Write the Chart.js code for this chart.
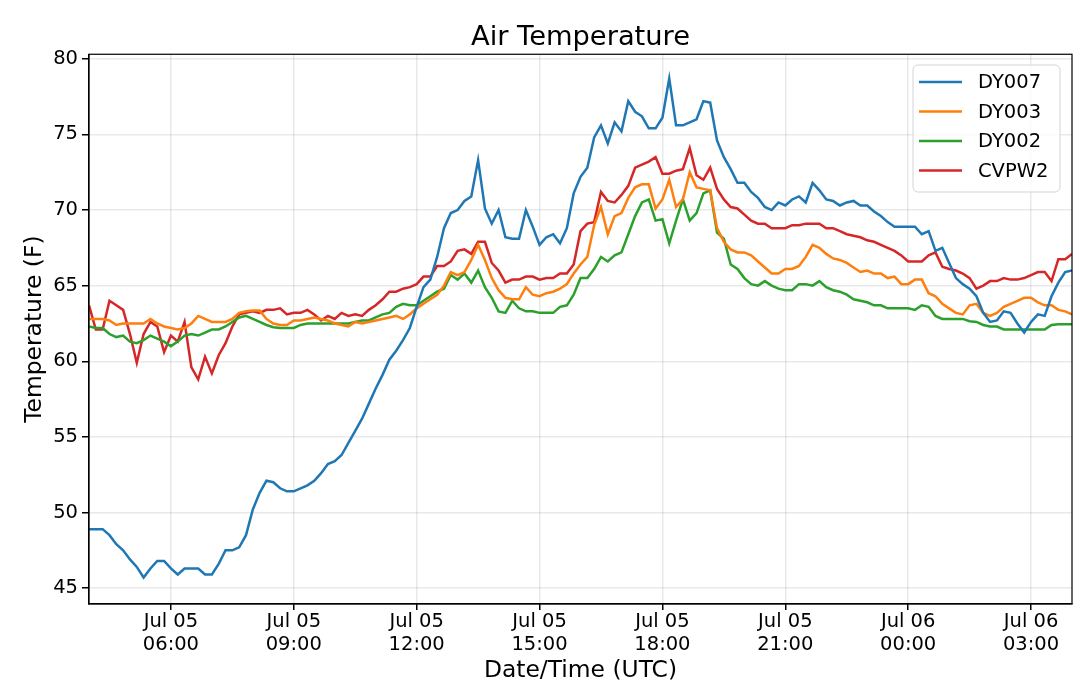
<!DOCTYPE html>
<html>
<head>
<meta charset="utf-8">
<title>Air Temperature</title>
<script src="https://cdn.jsdelivr.net/npm/chart.js@4.4.1/dist/chart.umd.min.js"></script>
<style>
    html, body { margin: 0; padding: 0; background: #ffffff; }
    #wrap { width: 1080px; height: 690px; }
</style>
</head>
<body>
<div id="wrap"><canvas id="airTemp" width="1080" height="690"></canvas></div>
<script>
// readings every 10 minutes, starting Jul 05 04:00 UTC
const stepMinutes = 10;

const dy007 = [
    48.9, 48.9, 48.9, 48.5, 47.9, 47.5, 46.9, 46.4, 45.7, 46.3,
    46.8, 46.8, 46.3, 45.9, 46.3, 46.3, 46.3, 45.9, 45.9, 46.6,
    47.5, 47.5, 47.7, 48.5, 50.2, 51.3, 52.1, 52.0, 51.6, 51.4,
    51.4, 51.6, 51.8, 52.1, 52.6, 53.2, 53.4, 53.8, 54.6, 55.4,
    56.2, 57.2, 58.2, 59.1, 60.1, 60.7, 61.4, 62.2, 63.6, 64.9,
    65.4, 66.9, 68.8, 69.8, 70.0, 70.6, 70.9, 73.3, 70.1, 69.1,
    70.0, 68.2, 68.1, 68.1, 70.0, 68.9, 67.7, 68.2, 68.4, 67.8,
    68.8, 71.1, 72.2, 72.8, 74.8, 75.6, 74.4, 75.8, 75.2, 77.2,
    76.5, 76.2, 75.4, 75.4, 76.1, 78.7, 75.6, 75.6, 75.8, 76.0,
    77.2, 77.1, 74.6, 73.5, 72.7, 71.8, 71.8, 71.2, 70.8, 70.2,
    70.0, 70.5, 70.3, 70.7, 70.9, 70.5, 71.8, 71.3, 70.7, 70.6,
    70.3, 70.5, 70.6, 70.3, 70.3, 69.9, 69.6, 69.2, 68.9, 68.9,
    68.9, 68.9, 68.4, 68.6, 67.3, 67.5, 66.5, 65.5, 65.1, 64.8,
    64.3, 63.2, 62.6, 62.7, 63.3, 63.2, 62.5, 61.9, 62.6, 63.1,
    63.0, 64.3, 65.2, 65.9, 66.0
];

const dy003 = [
    62.8, 62.8, 62.8, 62.7, 62.4, 62.5, 62.5, 62.5, 62.5, 62.8,
    62.5, 62.3, 62.2, 62.1, 62.2, 62.5, 63.0, 62.8, 62.6, 62.6,
    62.6, 62.8, 63.2, 63.3, 63.35, 63.35, 62.8, 62.5, 62.4, 62.4,
    62.7, 62.7, 62.8, 62.9, 62.8, 62.7, 62.5, 62.4, 62.3, 62.6,
    62.5, 62.6, 62.7, 62.8, 62.9, 63.0, 62.8, 63.1, 63.5, 63.8,
    64.1, 64.4, 65.0, 65.9, 65.7, 65.9, 66.7, 67.7, 66.7, 65.5,
    64.7, 64.2, 64.1, 64.1, 64.9, 64.4, 64.3, 64.5, 64.6, 64.8,
    65.1, 65.8, 66.4, 66.9, 69.0, 70.2, 68.4, 69.6, 69.8, 70.8,
    71.5, 71.7, 71.7, 70.1, 70.7, 72.0, 70.2, 70.7, 72.5, 71.5,
    71.4, 71.3, 68.8, 67.9, 67.4, 67.2, 67.2, 67.0, 66.6, 66.2,
    65.8, 65.8, 66.1, 66.1, 66.3, 66.9, 67.7, 67.5, 67.1, 66.8,
    66.7, 66.5, 66.2, 65.9, 66.0, 65.8, 65.8, 65.5, 65.6, 65.1,
    65.1, 65.4, 65.4, 64.5, 64.3, 63.8, 63.5, 63.2, 63.1, 63.7,
    63.8, 63.2, 63.0, 63.2, 63.6, 63.8, 64.0, 64.2, 64.2, 63.9,
    63.7, 63.7, 63.4, 63.3, 63.1
];

const dy002 = [
    62.3, 62.2, 62.2, 61.8, 61.6, 61.7, 61.3, 61.2, 61.4, 61.7,
    61.5, 61.3, 61.0, 61.3, 61.7, 61.8, 61.7, 61.9, 62.1, 62.1,
    62.3, 62.6, 62.9, 63.0, 62.8, 62.6, 62.4, 62.25, 62.2, 62.2,
    62.2, 62.4, 62.5, 62.5, 62.5, 62.5, 62.5, 62.5, 62.5, 62.6,
    62.7, 62.7, 62.9, 63.1, 63.2, 63.6, 63.8, 63.7, 63.7, 64.0,
    64.3, 64.6, 64.8, 65.7, 65.4, 65.8, 65.2, 66.0, 64.9, 64.2,
    63.3, 63.2, 64.0, 63.5, 63.3, 63.3, 63.2, 63.2, 63.2, 63.6,
    63.7, 64.4, 65.5, 65.5, 66.1, 66.9, 66.6, 67.0, 67.2, 68.4,
    69.6, 70.5, 70.7, 69.3, 69.4, 67.8, 69.3, 70.7, 69.3, 69.8,
    71.1, 71.3, 68.5, 68.1, 66.4, 66.1, 65.5, 65.1, 65.0, 65.3,
    65.0, 64.8, 64.7, 64.7, 65.1, 65.1, 65.0, 65.3, 64.9, 64.7,
    64.6, 64.4, 64.1, 64.0, 63.9, 63.7, 63.7, 63.5, 63.5, 63.5,
    63.5, 63.4, 63.7, 63.6, 63.0, 62.8, 62.8, 62.8, 62.8, 62.65,
    62.6, 62.4, 62.3, 62.3, 62.1, 62.1, 62.1, 62.1, 62.1, 62.1,
    62.1, 62.4, 62.45, 62.45, 62.45
];

const cvpw2 = [
    63.7, 62.1, 62.1, 64.0, 63.7, 63.4, 61.8, 59.9, 61.8, 62.6,
    62.3, 60.6, 61.7, 61.3, 62.6, 59.6, 58.8, 60.3, 59.2, 60.4,
    61.2, 62.3, 63.1, 63.2, 63.3, 63.2, 63.4, 63.4, 63.5, 63.1,
    63.2, 63.2, 63.4, 63.1, 62.7, 63.0, 62.8, 63.2, 63.0, 63.1,
    63.0, 63.4, 63.7, 64.1, 64.6, 64.6, 64.8, 64.9, 65.1, 65.6,
    65.6, 66.3, 66.3, 66.6, 67.3, 67.4, 67.1, 67.9, 67.9, 66.5,
    66.0, 65.2, 65.4, 65.4, 65.6, 65.6, 65.4, 65.5, 65.5, 65.8,
    65.8, 66.4, 68.6, 69.1, 69.2, 71.2, 70.6, 70.5, 71.0, 71.6,
    72.8, 73.0, 73.2, 73.5, 72.4, 72.4, 72.6, 72.7, 74.1, 72.3,
    72.0, 72.8, 71.4, 70.7, 70.2, 70.1, 69.7, 69.3, 69.1, 69.1,
    68.8, 68.8, 68.8, 69.0, 69.0, 69.1, 69.1, 69.1, 68.8, 68.8,
    68.6, 68.4, 68.3, 68.2, 68.0, 67.9, 67.7, 67.5, 67.3, 67.0,
    66.6, 66.6, 66.6, 67.0, 67.2, 66.25, 66.1, 66.0, 65.8, 65.5,
    64.8, 65.0, 65.3, 65.3, 65.5, 65.4, 65.4, 65.5, 65.7, 65.9,
    65.9, 65.3, 66.75, 66.75, 67.1
];

const seriesNames = ['DY007', 'DY003', 'DY002', 'CVPW2'];
const seriesColors = ['#1f77b4', '#ff7f0e', '#2ca02c', '#d62728'];

// x ticks in minutes after Jul 05 04:00
const xTickMinutes = [120, 300, 480, 660, 840, 1020, 1200, 1380];
const xTickLabels = [
    ['Jul 05', '06:00'], ['Jul 05', '09:00'], ['Jul 05', '12:00'], ['Jul 05', '15:00'],
    ['Jul 05', '18:00'], ['Jul 05', '21:00'], ['Jul 06', '00:00'], ['Jul 06', '03:00']
];
const yTicks = [45, 50, 55, 60, 65, 70, 75, 80];

const FONT = 'DejaVu Sans';

function toPoints(values) {
    return values.map((v, i) => ({ x: i * stepMinutes, y: v }));
}

// box around the plot (matplotlib spines)
const frame = {
    id: 'frame',
    afterDatasetsDraw(chart) {
        const { ctx, chartArea: a } = chart;
        ctx.save();
        ctx.strokeStyle = '#000';
        ctx.lineWidth = 1.2;
        ctx.strokeRect(a.left, a.top, a.right - a.left, a.bottom - a.top);
        ctx.restore();
    }
};

// legend inside the upper right corner
const boxLegend = {
    id: 'boxLegend',
    afterDatasetsDraw(chart) {
        const { ctx } = chart;
        const x = 913, y = 65, w = 147, h = 127, r = 5;
        ctx.save();
        ctx.beginPath();
        ctx.moveTo(x + r, y);
        ctx.arcTo(x + w, y, x + w, y + h, r);
        ctx.arcTo(x + w, y + h, x, y + h, r);
        ctx.arcTo(x, y + h, x, y, r);
        ctx.arcTo(x, y, x + w, y, r);
        ctx.closePath();
        ctx.fillStyle = 'rgba(255,255,255,0.8)';
        ctx.fill();
        ctx.strokeStyle = '#d4d4d4';
        ctx.lineWidth = 1;
        ctx.stroke();

        ctx.font = '19.5px "' + FONT + '"';
        ctx.textBaseline = 'middle';
        ctx.textAlign = 'left';
        chart.data.datasets.forEach((ds, k) => {
            const ly = 82 + k * 29.5;
            ctx.strokeStyle = ds.borderColor;
            ctx.lineWidth = 2.6;
            ctx.beginPath();
            ctx.moveTo(919, ly);
            ctx.lineTo(962, ly);
            ctx.stroke();
            ctx.fillStyle = '#000';
            ctx.fillText(ds.label, 978, ly + 1);
        });
        ctx.restore();
    }
};

const datasets = [dy007, dy003, dy002, cvpw2].map((vals, k) => ({
    label: seriesNames[k],
    data: toPoints(vals),
    borderColor: seriesColors[k],
    backgroundColor: seriesColors[k],
    borderWidth: 2.5,
    pointRadius: 0,
    tension: 0,
    fill: false
}));

new Chart(document.getElementById('airTemp'), {
    type: 'line',
    data: { datasets },
    options: {
        responsive: false,
        animation: false,
        layout: { padding: { left: 0, right: 8, top: 0, bottom: 0 } },
        scales: {
            x: {
                type: 'linear',
                min: 0,
                max: 1440,
                afterBuildTicks: scale => { scale.ticks = xTickMinutes.map(v => ({ value: v })); },
                afterFit: scale => { scale.height = 86; },
                ticks: {
                    autoSkip: false,
                    maxRotation: 0,
                    padding: 0,
                    color: '#000',
                    font: { family: FONT, size: 19.5, lineHeight: 1.18 },
                    callback: v => xTickLabels[xTickMinutes.indexOf(v)]
                },
                grid: { color: 'rgba(0,0,0,0.085)', lineWidth: 1.5, tickColor: '#000', tickLength: 6 },
                border: { display: true, color: '#000', width: 1.2 },
                title: {
                    display: true,
                    text: 'Date/Time (UTC)',
                    color: '#000',
                    font: { family: FONT, size: 23.4 },
                    padding: { top: 0, bottom: 5 }
                }
            },
            y: {
                min: 43.95,
                max: 80.3,
                afterBuildTicks: scale => { scale.ticks = yTicks.map(v => ({ value: v })); },
                afterFit: scale => { scale.width = 89; },
                ticks: {
                    padding: 4,
                    color: '#000',
                    font: { family: FONT, size: 19.5 }
                },
                grid: { color: 'rgba(0,0,0,0.085)', lineWidth: 1.5, tickColor: '#000', tickLength: 7 },
                border: { display: true, color: '#000', width: 1.2 },
                title: {
                    display: true,
                    text: 'Temperature (F)',
                    color: '#000',
                    font: { family: FONT, size: 23.4 },
                    padding: { top: 21, bottom: 0 }
                }
            }
        },
        plugins: {
            legend: { display: false },
            tooltip: { enabled: false },
            title: {
                display: true,
                fullSize: false,
                text: 'Air Temperature',
                color: '#000',
                font: { family: FONT, size: 27.3, weight: 'normal', lineHeight: 1.2 },
                padding: { top: 21.5, bottom: 0 }
            }
        }
    },
    plugins: [frame, boxLegend]
});
</script>
</body>
</html>
